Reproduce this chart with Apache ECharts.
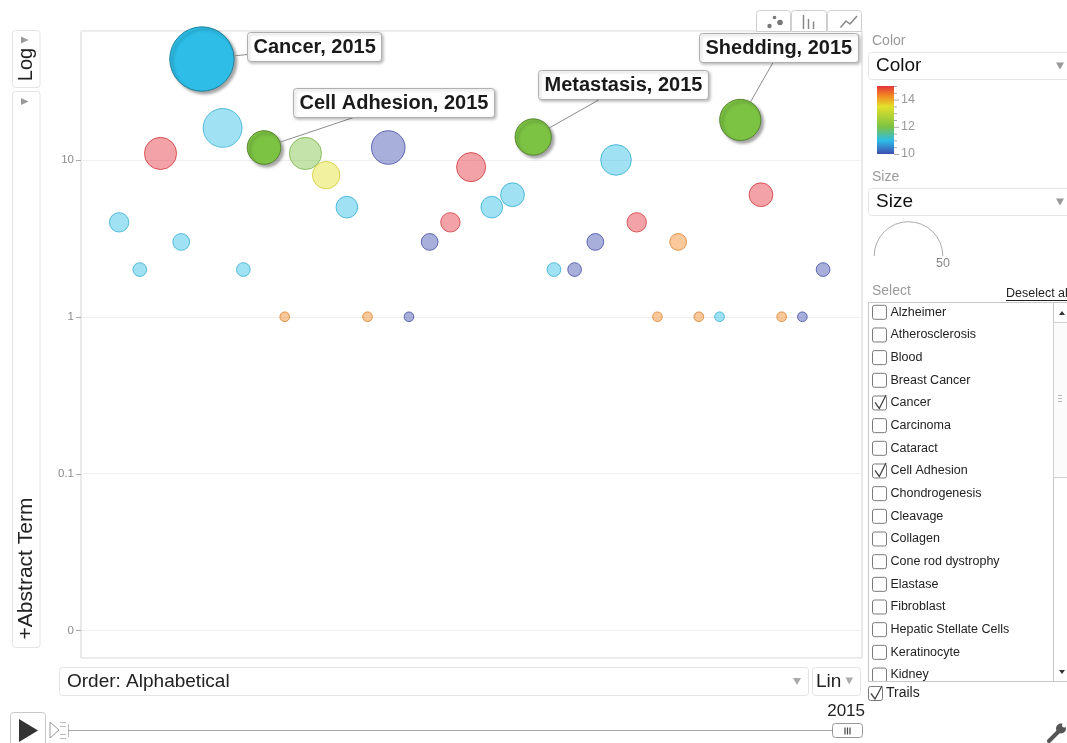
<!DOCTYPE html>
<html>
<head>
<meta charset="utf-8">
<title>Motion chart</title>
<script src="https://cdn.jsdelivr.net/npm/echarts@6.0.0/dist/echarts.min.js"></script>
<style>
html,body{margin:0;padding:0;background:#fff;overflow:hidden}
#chart{width:1067px;height:743px}
</style>
</head>
<body>
<div id="chart"></div>
<script>
// ---------------- data ----------------
const terms = ['Alzheimer','Atherosclerosis','Blood','Breast Cancer','Cancer','Carcinoma','Cataract','Cell Adhesion','Chondrogenesis','Cleavage','Collagen','Cone rod dystrophy','Elastase','Fibroblast','Hepatic Stellate Cells','Keratinocyte','Kidney','Liver','Lung','Melanoma','Metastasis','Migration','Myocardium','Neuron','Osteoarthritis','Ovarian Cancer','Pancreas','Platelet','Prostate','Retina','Shedding','Skin','Spermatogenesis','Tumor','Wound Healing'];
const counts = [4,2,11,3,44,16,2,12,1,11, 8,5,1,12,1,3,4,9,5,6, 14,2,2,3,10,4,1,3,1,1, 18,6,1,1,2];
const sizes  = [4,2,11,3,44,16,2,12,1,11, 8,5,1,12,1,3,4,9,5,6, 14,2,2,3,10,4,1,3,1,1, 18,6,1,1,2];
const colorValues = [11,11,15,11,11,11,11,12,14.3,12, 13.5,11,14.3,10,10,10,15,15,11,11, 12,11,10,10,11,15,14.3,14.3,14.3,11, 12,15,14.3,10,10];
const selectedTerms = ['Cancer','Cell Adhesion','Metastasis','Shedding'];
const yearLabel = '2015';
const yTickValues = [0.01, 0.1, 1, 10];
const yTickLabels = ['0', '0.1', '1', '10'];
const colorLegendRange = [10, 15];
const colorLegendTicks = [10, 12, 14];
const sizeLegendMax = 50;
const listTerms = terms.slice(0, 17);
const orderLabel = 'Order: Alphabetical';
const colorStops = [[10,'#3f4db0'],[11,'#2dbde6'],[12,'#7cc243'],[13.5,'#e3e02a'],[14.3,'#f28723'],[15,'#e5343c']];

// ---------------- layout ----------------
const GRID = {left: 81, top: 31, right: 862, bottom: 658};
const X_RANGE = [-1.84, 35.88];
const Y_RANGE = [0.00667, 66.4];
const R50 = 34.3;                 // radius of a bubble of size 50
const FONT = '"Liberation Sans", Arial, Helvetica, sans-serif';
const calloutLayout = {
  'Cancer':        {box: [45, -26.8],  anchor: [0, 22]},
  'Cell Adhesion': {box: [29, -59.2],  anchor: [60, 29]},
  'Metastasis':    {box: [4.7, -66.7], anchor: [61, 29]},
  'Shedding':      {box: [-41.5, -87.3], anchor: [73.5, 29]}
};

function hexRgb(h){ return [1,3,5].map(k => parseInt(h.substr(k,2),16)); }
function colorAt(v){
  const s = colorStops;
  if (v <= s[0][0]) return hexRgb(s[0][1]);
  for (let k = 1; k < s.length; k++) {
    if (v <= s[k][0]) {
      const t = (v - s[k-1][0]) / (s[k][0] - s[k-1][0]);
      const a = hexRgb(s[k-1][1]), b = hexRgb(s[k][1]);
      return a.map((x,j) => x + (b[j]-x)*t);
    }
  }
  return hexRgb(s[s.length-1][1]);
}
const rgba = (c,a) => `rgba(${Math.round(c[0])},${Math.round(c[1])},${Math.round(c[2])},${a})`;
const darker = (c,f) => c.map(x => x*(1-f));
const radiusOf = s => R50 * Math.sqrt(s / sizeLegendMax);

function makeSeries(sel){
  const data = [];
  terms.forEach((t,i) => {
    if (selectedTerms.includes(t) !== sel) return;
    const c = colorAt(colorValues[i]);
    data.push({
      name: t,
      value: [i, counts[i], sizes[i]],
      itemStyle: sel ? {
        color: rgba(c,1), borderColor: rgba(darker(c,0.3),1), borderWidth: 1,
        shadowColor: 'rgba(0,0,0,0.35)', shadowBlur: 3, shadowOffsetX: 2.5, shadowOffsetY: 2.5, opacity: 1
      } : {
        color: rgba(c,0.45), borderColor: rgba(darker(c,0.1),0.75), borderWidth: 1, opacity: 1
      }
    });
  });
  return {
    type: 'scatter', name: sel ? 'selected' : 'others', data,
    symbolSize: v => 2 * radiusOf(v[2]),
    z: sel ? 4 : 3, silent: true, emphasis: {disabled: true}, clip: false
  };
}

const chart = echarts.init(document.getElementById('chart'), null, {renderer: 'canvas', width: 1067, height: 743});
chart.setOption({
  animation: false,
  backgroundColor: '#ffffff',
  grid: {left: GRID.left, top: GRID.top, width: GRID.right-GRID.left, height: GRID.bottom-GRID.top,
         show: true, borderColor: '#d3d3d3', borderWidth: 1, backgroundColor: '#fff'},
  xAxis: {type: 'value', min: X_RANGE[0], max: X_RANGE[1], show: false},
  yAxis: {
    type: 'log', logBase: 10, min: Y_RANGE[0], max: Y_RANGE[1],
    axisLine: {show: false}, axisTick: {show: false},
    splitLine: {show: true, lineStyle: {color: '#efefef', width: 1}},
    axisLabel: {
      margin: 7, color: '#8c8c8c', fontSize: 11.5, fontFamily: FONT,
      formatter: v => {
        for (let k = 0; k < yTickValues.length; k++) {
          if (Math.abs(Math.log10(v) - Math.log10(yTickValues[k])) < 0.01) return yTickLabels[k];
        }
        return '';
      }
    }
  },
  series: [makeSeries(false), makeSeries(true)]
});

// ---------------- helpers for graphic ----------------
function R(x,y,w,h,style,r,z){ return {type:'rect', shape:{x,y,width:w,height:h,r:r||0}, style:Object.assign({fill:'#fff', stroke:'#dddddd', lineWidth:1}, style||{}), z:z||1, silent:true}; }
function T(x,y,text,size,color,o){
  o = o || {};
  const el = {type:'text', x, y, style:{text, font:`${o.weight||'normal'} ${size}px ${FONT}`, fill:color,
    textAlign:o.align||'left', align:o.align||'left', textVerticalAlign:'middle', verticalAlign:'middle'}, z:o.z||5, silent:true};
  if (o.rotation != null) el.rotation = o.rotation;
  return el;
}
function Ln(x1,y1,x2,y2,color,w,z,cap){ return {type:'line', shape:{x1,y1,x2,y2}, style:{stroke:color, lineWidth:w||1, lineCap:cap||'butt'}, z:z||3, silent:true}; }
function Pg(points, fill, stroke, z){ return {type:'polygon', shape:{points}, style:{fill:fill, stroke:stroke||null, lineWidth:1}, z:z||4, silent:true}; }
function Pl(points, stroke, w, z){ return {type:'polyline', shape:{points}, style:{stroke, lineWidth:w||1, fill:null}, z:z||4, silent:true}; }
function C(cx,cy,r,fill,z){ return {type:'circle', shape:{cx,cy,r}, style:{fill}, z:z||4, silent:true}; }
const mctx = document.createElement('canvas').getContext('2d');
function textW(t, font){ mctx.font = font; return mctx.measureText(t).width; }

const els = [];
// view tabs
els.push(R(756.5,10.5,34,21,{stroke:'#cfcfcf'},[3,3,0,0]));
els.push(R(791.5,10.5,35,21,{stroke:'#cfcfcf'},[3,3,0,0]));
els.push(R(827.5,10.5,34,21,{stroke:'#cfcfcf'},[3,3,0,0]));
els.push(C(769.5,26,2.2,'#777'), C(774.5,17.5,1.8,'#777'), C(780,22.5,2.8,'#777'));
els.push(Ln(803.5,15,803.5,29,'#888',1.5), Ln(808.5,19,808.5,29,'#888',1.5), Ln(813.5,21.5,813.5,29,'#888',1.5));
els.push(Pl([[840.5,27.5],[846,21],[850,24],[857,16]],'#888',1.5));

// left control column
els.push(R(12.5,30.5,27.5,57,{stroke:'#e4e4e4'},3));
els.push(R(12.5,91.5,27.5,556,{stroke:'#e4e4e4'},3));
els.push(Pg([[21,36.5],[21,43.5],[28.5,40]],'#9a9a9a'));
els.push(Pg([[21,98],[21,105],[28.5,101.5]],'#9a9a9a'));
els.push(T(26.5,64.5,'Log',20,'#222',{align:'center', rotation:Math.PI/2}));
els.push(T(26,568.5,'+Abstract Term',21,'#222',{align:'center', rotation:Math.PI/2}));

// bottom controls
els.push(R(59.5,667.5,749,28,{stroke:'#e4e4e4'},3));
els.push(T(67,681.5,orderLabel,19,'#222'));
els.push(Pg([[793,678],[801,678],[797,685]],'#aaa'));
els.push(R(812.5,667.5,48,28,{stroke:'#e4e4e4'},3));
els.push(T(816,681.5,'Lin',19,'#222'));
els.push(Pg([[845.5,677.5],[853,677.5],[849.2,684.5]],'#aaa'));
els.push(R(10.5,712.5,35,34,{stroke:'#c8c8c8'},3));
els.push(Pg([[19,719],[19,742],[38,730.5]],'#333'));
els.push(Pg([[50,722],[50,738],[59,730]],'#fff','#9a9a9a'));
[722,726,734,738].forEach(y => els.push(Ln(60,y+0.5,66,y+0.5,'#bbb',1)));
els.push(Ln(68.5,724,68.5,737,'#bbb',1));
els.push(Ln(68,730.5,832,730.5,'#a8a8a8',1));
els.push(R(832.5,723.5,30,14,{stroke:'#999'},3));
[845,847.5,850].forEach(x => els.push(Ln(x,727.5,x,734.5,'#444',1.2,6)));
els.push(T(865,711,yearLabel,17,'#222',{align:'right'}));

// right panel: colour
els.push(T(872,41.5,'Color',14,'#9a9a9a'));
els.push(R(868.5,52.5,215,27,{stroke:'#e6e6e6'},3));
els.push(T(876,66,'Color',19,'#111'));
els.push(Pg([[1056,62.5],[1064,62.5],[1060,69.5]],'#999'));
const LB = {x:877, y:86, w:17, h:68};
const span = colorLegendRange[1]-colorLegendRange[0];
const gStops = colorStops.map(s => ({offset: Math.min(1,Math.max(0,(colorLegendRange[1]-s[0])/span)), color: s[1]})).sort((a,b)=>a.offset-b.offset);
els.push({type:'rect', shape:{x:LB.x,y:LB.y,width:LB.w,height:LB.h}, style:{fill:new echarts.graphic.LinearGradient(0,0,0,1,gStops), stroke:null}, z:2, silent:true});
const vy = v => LB.y + LB.h - (v-colorLegendRange[0])/span*LB.h;
for (let v = colorLegendRange[0]; v <= colorLegendRange[1]+1e-9; v += 0.5) {
  const major = colorLegendTicks.includes(v);
  els.push(Ln(LB.x+LB.w, vy(v)+0.5, LB.x+LB.w+(major?5:3), vy(v)+0.5, '#aaa', 1));
}
colorLegendTicks.forEach(v => els.push(T(LB.x+LB.w+7, vy(v), String(v), 12.5, '#9a9a9a')));

// right panel: size
els.push(T(872,177,'Size',14,'#9a9a9a'));
els.push(R(868.5,188.5,215,27,{stroke:'#e6e6e6'},3));
els.push(T(876,202,'Size',19,'#111'));
els.push(Pg([[1056,198.5],[1064,198.5],[1060,205.5]],'#999'));
els.push({type:'arc', shape:{cx:908.5, cy:256, r:R50, startAngle:Math.PI, endAngle:Math.PI*2, clockwise:true}, style:{stroke:'#aaa', fill:null, lineWidth:1}, z:3, silent:true});
els.push(T(943,264,String(sizeLegendMax),12.5,'#888',{align:'center'}));

// right panel: select list
els.push(T(872,291,'Select',14,'#9a9a9a'));
const dsFont = `normal 12.5px ${FONT}`;
els.push(T(1006,294,'Deselect all',12.5,'#222'));
els.push(Ln(1006,300.5,1006+textW('Deselect all',dsFont),300.5,'#222',1));
els.push(R(868.5,302.5,215,379,{stroke:'#c8c8c8'},0,1));
listTerms.forEach((t,k) => {
  const y = 312.3 + 22.67*k;
  els.push(R(872.5, y-7, 14, 14, {stroke:'#7a7a7a'}, 2, 5));
  if (selectedTerms.includes(t)) els.push(Pl([[875,y-0.5],[879.3,y+5.5],[886,y-8]],'#444',1.3,6));
  els.push(T(890.5, y, t, 12.5, '#222'));
});
els.push(R(869,682,184,3.5,{stroke:null},0,7));
els.push(Ln(868.5,681.5,1067,681.5,'#c8c8c8',1,8));
// scrollbar
els.push(Ln(1053.5,303,1053.5,681,'#c8c8c8',1,8));
els.push(R(1053.5,322.5,16,155,{fill:'#fbfbfb', stroke:'#cfcfcf'},0,8));
[395.5,398.5,401.5].forEach(y => els.push(Ln(1058,y,1062,y,'#bbb',1,9)));
els.push(Pg([[1059,315],[1065,315],[1062,311]],'#333',null,9));
els.push(Pg([[1059,670],[1065,670],[1062,674]],'#333',null,9));
// trails
els.push(R(868.5,686.5,14,14,{stroke:'#7a7a7a'},2,5));
els.push(Pl([[871,693.5],[875,699],[882,686]],'#444',1.3,6));
els.push(T(886,693.5,'Trails',14,'#222'));
// wrench
els.push(Ln(1049,741,1058,732,'#555',4,6,'round'));
els.push(C(1061,728.5,5,'#555',6));
els.push(C(1064.3,725.2,2.3,'#fff',7));

// y-axis tick marks (through axis scale)
yTickValues.forEach(v => {
  const p = chart.convertToPixel({gridIndex:0}, [0, v]);
  els.push(Ln(GRID.left-5, Math.round(p[1])+0.5, GRID.left, Math.round(p[1])+0.5, '#aaa', 1, 3));
});

// callouts for the selected terms
const boxH = 29, padX = 6;
const cFont = `bold 20px ${FONT}`;
selectedTerms.forEach(name => {
  const i = terms.indexOf(name);
  const p = chart.convertToPixel({gridIndex:0}, [i, counts[i]]);
  const r = radiusOf(sizes[i]);
  const L = calloutLayout[name];
  const txt = name + ', ' + yearLabel;
  const w = textW(txt, cFont) + 2*padX;
  const bx = Math.round(p[0] + L.box[0]) + 0.5, by = Math.round(p[1] + L.box[1]) + 0.5;
  const ax = bx + L.anchor[0], ay = by + L.anchor[1];
  const dx = ax - p[0], dy = ay - p[1], d = Math.hypot(dx, dy);
  els.push(Ln(p[0] + dx/d*r, p[1] + dy/d*r, ax, ay, '#8c8c8c', 1, 50));
  els.push({type:'rect', shape:{x:bx,y:by,width:Math.round(w),height:boxH,r:3},
    style:{fill:'#fff', stroke:'#b0b0b0', lineWidth:1, shadowBlur:3, shadowColor:'rgba(0,0,0,0.25)', shadowOffsetX:1.5, shadowOffsetY:1.5}, z:51, silent:true});
  els.push(T(bx+padX, by+boxH/2+0.5, txt, 20, '#1a1a1a', {weight:'bold', z:52}));
});

chart.setOption({graphic: {elements: els}});
</script>
</body>
</html>
